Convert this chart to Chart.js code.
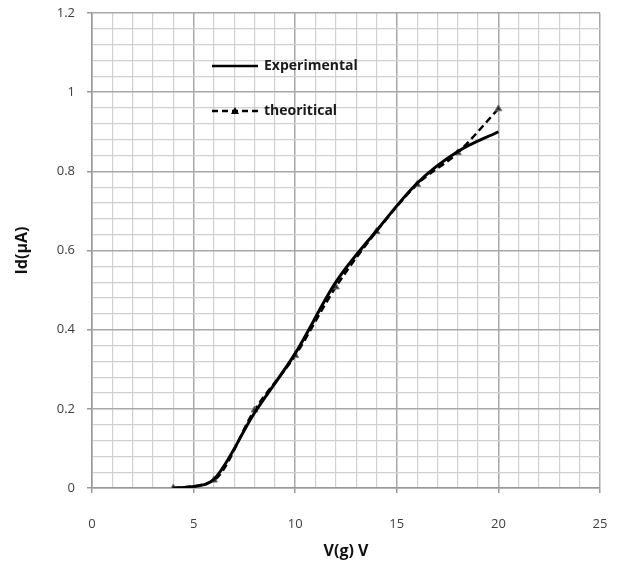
<!DOCTYPE html>
<html><head><meta charset="utf-8">
<script src="https://cdn.jsdelivr.net/npm/chart.js@4/dist/chart.umd.min.js"></script>
<style>html,body{margin:0;padding:0;background:#fff}#wrap{width:619px;height:565px}</style>
</head><body><div id="wrap"><canvas id="c" width="619" height="565"></canvas></div>
<script>
const vgExp = [4, 5, 6, 8, 10, 12, 14, 16, 18, 20];
const idExp = [0, 0.004, 0.022, 0.19, 0.34, 0.52, 0.65, 0.77, 0.85, 0.90];
const vgTheo = [4, 6, 8, 10, 12, 14, 16, 18, 20];
const idTheo = [0, 0.02, 0.197, 0.335, 0.508, 0.648, 0.767, 0.847, 0.958];
const seriesNames = ['Experimental', 'theoritical'];
const xTitle = 'V(g) V';
const yTitle = 'Id(\u03bcA)';

const FONT = "'Open Sans', 'Liberation Sans', sans-serif";

const legendPlugin = {
  id: 'inLegend',
  afterDatasetsDraw(chart) {
    const ctx = chart.ctx;
    ctx.save();
    const x0 = 212, x1 = 258;
    const rows = [66, 111];
    ctx.font = "bold 14px " + FONT;
    ctx.fillStyle = '#1a1a1a';
    ctx.textBaseline = 'middle';
    ctx.strokeStyle = '#000'; ctx.lineWidth = 2.5; ctx.setLineDash([]);
    ctx.beginPath(); ctx.moveTo(x0, rows[0]); ctx.lineTo(x1, rows[0]); ctx.stroke();
    ctx.fillText(seriesNames[0], 264, rows[0]);
    ctx.setLineDash([6, 4]);
    ctx.beginPath(); ctx.moveTo(x0, rows[1]); ctx.lineTo(x1, rows[1]); ctx.stroke();
    ctx.setLineDash([]);
    ctx.fillStyle = '#000';
    const cx = 235, cy = rows[1];
    ctx.beginPath(); ctx.moveTo(cx, cy - 4); ctx.lineTo(cx + 4, cy + 3); ctx.lineTo(cx - 4, cy + 3); ctx.closePath(); ctx.fill();
    ctx.fillStyle = '#1a1a1a';
    ctx.fillText(seriesNames[1], 264, rows[1]);
    ctx.restore();
  }
};

new Chart(document.getElementById('c'), {
  type: 'line',
  data: {
    datasets: [
      {
        label: seriesNames[0],
        data: vgExp.map((v, i) => ({x: v, y: idExp[i]})),
        borderColor: '#000', borderWidth: 3, pointRadius: 0,
        tension: 0.4, cubicInterpolationMode: 'monotone', fill: false
      },
      {
        label: seriesNames[1],
        data: vgTheo.map((v, i) => ({x: v, y: idTheo[i]})),
        borderColor: '#000', borderWidth: 2.5, borderDash: [7, 4],
        pointStyle: 'triangle', pointRadius: 4, pointBackgroundColor: '#333', pointBorderColor: '#777', pointBorderWidth: 1,
        tension: 0.4, cubicInterpolationMode: 'monotone', fill: false
      }
    ]
  },
  options: {
    responsive: false, animation: false,
    layout: {padding: {left: 0, right: 19, top: 13, bottom: 4}},
    plugins: {legend: {display: false}, tooltip: {enabled: false}},
    scales: {
      x: {
        type: 'linear', min: 0, max: 25,
        ticks: {stepSize: 1, autoSkip: false, maxRotation: 0, padding: 23, color: '#404040', font: {family: FONT, size: 13},
          callback: v => (Math.round(v) % 5 === 0 ? String(Math.round(v)) : '')},
        grid: {
          color: c => (Math.round(c.tick.value) % 5 === 0 ? '#a8a8a8' : '#d0d0d0'),
          lineWidth: c => (Math.round(c.tick.value) % 5 === 0 ? 1.5 : 1.2),
          tickColor: c => (c.tick && Math.round(c.tick.value) % 5 === 0 ? '#999' : 'rgba(0,0,0,0)'),
          tickLength: 5
        },
        border: {color: '#999', width: 1.5},
        title: {display: true, text: xTitle, color: '#111', font: {family: FONT, size: 16, weight: 'bold'}, padding: {top: 0, bottom: 0}},
        afterFit: s => { s.height = 73; s.paddingLeft = 0; s.paddingRight = 0; }
      },
      y: {
        type: 'linear', min: 0, max: 1.2,
        ticks: {stepSize: 0.04, autoSkip: false, padding: 12, color: '#404040', font: {family: FONT, size: 13},
          callback: v => { const k = Math.round(v * 100); return k % 20 === 0 ? String(+(k / 100).toFixed(1)) : ''; }},
        grid: {
          color: c => (Math.round(c.tick.value * 100) % 20 === 0 ? '#a8a8a8' : '#d0d0d0'),
          lineWidth: c => (Math.round(c.tick.value * 100) % 20 === 0 ? 1.5 : 1.2),
          tickColor: c => (c.tick && Math.round(c.tick.value * 100) % 20 === 0 ? '#999' : 'rgba(0,0,0,0)'),
          tickLength: 5
        },
        border: {color: '#999', width: 1.5},
        title: {display: true, text: yTitle, color: '#111', font: {family: FONT, size: 16, weight: 'bold'}, padding: {top: 13, bottom: 0}},
        afterFit: s => { s.width = 92; s.paddingTop = 0; s.paddingBottom = 0; }
      }
    }
  },
  plugins: [legendPlugin]
});
</script></body></html>
